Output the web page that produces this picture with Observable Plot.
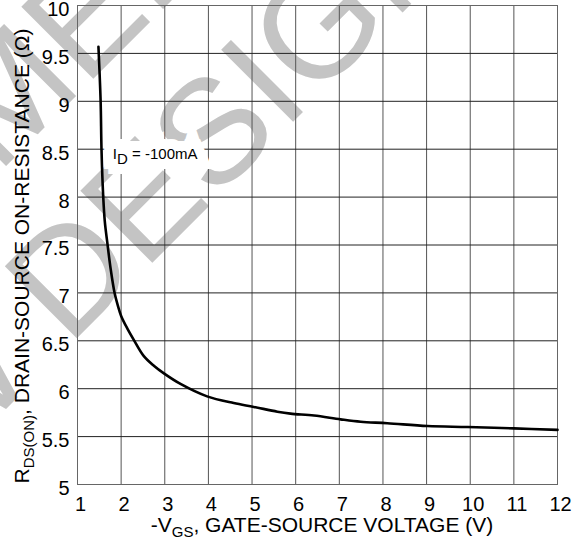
<!DOCTYPE html>
<html>
<head>
<meta charset="utf-8">
<script src="https://cdn.jsdelivr.net/npm/d3@7"></script>
<script src="https://cdn.jsdelivr.net/npm/@observablehq/plot@0.6"></script>
<style>
  body { margin: 0; background: #fff; }
  #chart { width: 581px; height: 537px; }
</style>
</head>
<body>
<div id="chart"></div>
<script>
// On-resistance vs. gate-source voltage, I_D = -100 mA
const vgs = [1.48, 1.53, 1.55, 1.59, 1.625, 1.69, 1.76, 1.85, 1.93, 2.00, 2.14, 2.29, 2.52, 2.75, 2.98,
             3.36, 3.97, 4.58, 5.04, 5.58, 5.88, 6.42, 7.03, 7.49, 8.10, 9.02, 9.94, 11.0, 12.0];
const rds = [9.57, 9.00, 8.50, 8.00, 7.75, 7.50, 7.25, 7.00, 6.86, 6.76, 6.63, 6.51, 6.34, 6.24, 6.16,
             6.05, 5.92, 5.85, 5.81, 5.76, 5.74, 5.72, 5.68, 5.655, 5.64, 5.61, 5.60, 5.586, 5.57];

const xTicks = [1, 2, 3, 4, 5, 6, 7, 8, 9, 10, 11, 12];
const yTicks = [5, 5.5, 6, 6.5, 7, 7.5, 8, 8.5, 9, 9.5, 10];

// curve annotation: main text, subscript, remainder, anchor in data units
const noteParts = ["I", "D", " = -100mA"];
const notePos = [2.78, 8.45];

const xTitleParts = ["-V", "GS", ", GATE-SOURCE VOLTAGE (V)"];
const yTitleParts = ["R", "DS(ON)", ", DRAIN-SOURCE ON-RESISTANCE (\u03A9)"];
const watermarkLines = ["NOT RECOMMENDED FOR", "NEW DESIGN"];

const W = 581, H = 537;
const M = {top: 5, right: 24, bottom: 53, left: 77};
const FONT = '"Liberation Sans", Arial, Helvetica, sans-serif';

const points = vgs.map((v, i) => ({vgs: v, rds: rds[i]}));
const note = [{x: notePos[0], y: notePos[1], label: noteParts.join("")}];
const noteStyle = {x: "x", y: "y", text: "label", fontSize: 15, textAnchor: "middle", lineAnchor: "middle"};

const chart = Plot.plot({
  width: W,
  height: H,
  marginTop: M.top,
  marginRight: M.right,
  marginBottom: M.bottom,
  marginLeft: M.left,
  style: {fontFamily: FONT, fontSize: "20px", color: "#000", background: "#fff"},
  x: {domain: [1, 12]},
  y: {domain: [5, 10]},
  marks: [
    Plot.gridX(xTicks, {stroke: "#555", strokeOpacity: 1, strokeWidth: 1}),
    Plot.gridY(yTicks, {stroke: "#222", strokeOpacity: 1, strokeWidth: 1}),
    Plot.frame({stroke: "#666", strokeWidth: 1}),
    Plot.axisX(xTicks, {tickSize: 0, tickPadding: 12, dx: 3, label: null, fontSize: 20,
                        tickFormat: d => String(d)}),
    Plot.axisY(yTicks, {tickSize: 0, tickPadding: 8, dy: 4, label: null, fontSize: 20,
                        tickFormat: d => String(d)}),
    Plot.line(points, {x: "vgs", y: "rds", stroke: "#000", strokeWidth: 2.6, curve: "catmull-rom"}),
    // white box behind the annotation, then the annotation itself
    Plot.text(note, {...noteStyle, fill: "#fff", stroke: "#fff", strokeWidth: 20, strokeLinejoin: "miter"}),
    Plot.text(note, {...noteStyle, fill: "#000"})
  ]
});

document.getElementById("chart").appendChild(chart);
const svg = d3.select(chart);

// subscript "D" in the curve annotation
svg.selectAll("text").filter(function () { return this.textContent === note[0].label; })
  .each(function () {
    const t = d3.select(this);
    t.text(null);
    t.append("tspan").text(noteParts[0]);
    t.append("tspan").attr("dy", 5).text(noteParts[1]);
    t.append("tspan").attr("dy", -5).text(noteParts[2]);
  });

// diagonal watermark, beneath the grid
const wm = svg.insert("g", "g")
  .attr("fill", "#c4c4c4")
  .attr("font-family", FONT)
  .attr("font-size", 148)
  .attr("text-anchor", "start");
const wmStarts = [[-640, 812], [-205, 620]];
watermarkLines.forEach((line, i) => {
  wm.append("text")
    .attr("transform", `translate(${wmStarts[i][0]},${wmStarts[i][1]}) rotate(-45)`)
    .text(line);
});

// axis titles with subscripts
function titled(sel, parts, size, subSize, shift) {
  sel.attr("font-family", FONT).attr("font-size", size).attr("fill", "#000").attr("text-anchor", "middle");
  sel.append("tspan").text(parts[0]);
  sel.append("tspan").attr("font-size", subSize).attr("dy", shift).text(parts[1]);
  sel.append("tspan").attr("dy", -shift).text(parts[2]);
}
titled(svg.append("text").attr("x", 322).attr("y", 532), xTitleParts, 21, 15, 5);
titled(svg.append("text").attr("transform", "translate(29,256) rotate(-90)"), yTitleParts, 21, 15, 5);
</script>
</body>
</html>
